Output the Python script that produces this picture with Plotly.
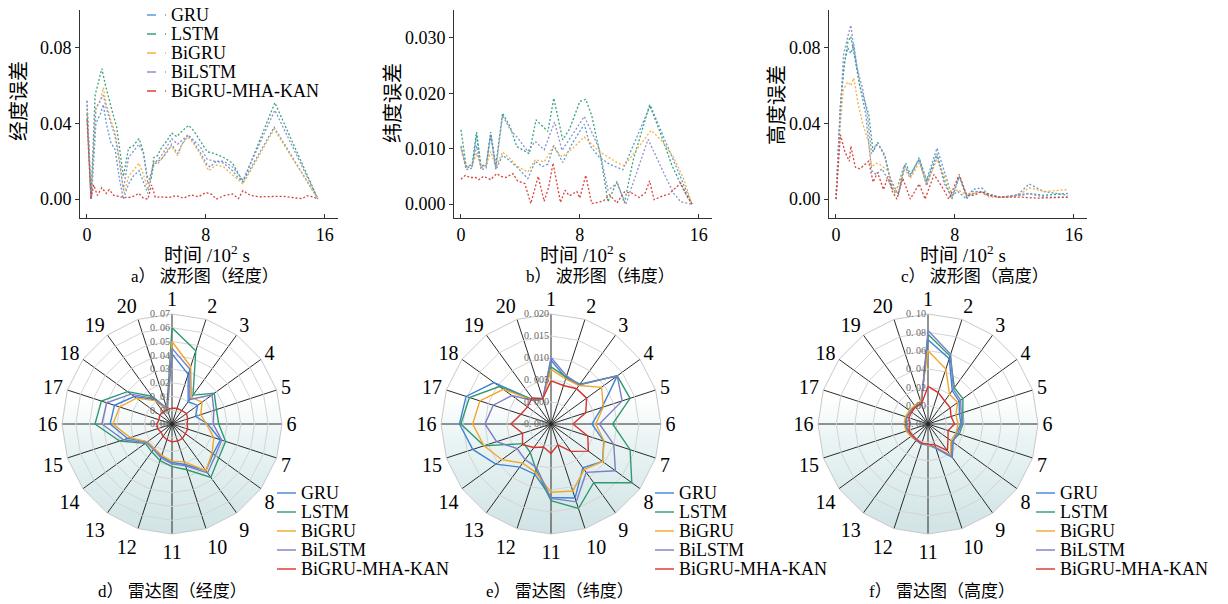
import math
import plotly.graph_objects as go

W, H = 1228, 604
FONT = "Liberation Serif, Times New Roman, Noto Sans CJK SC, serif"

models = ["GRU", "LSTM", "BiGRU", "BiLSTM", "BiGRU-MHA-KAN"]
wave_colors = ["#5b9bd5", "#3aa37a", "#f5b041", "#8f8fd0", "#d9433c"]
radar_colors = ["#3f83d8", "#2f9a70", "#f2a62a", "#7a7ec6", "#d8322c"]
spokes = [str(i) for i in range(1, 21)]

# ---------------- waveform data: longitude ----------------
lon_gru_t = [0, 0.3, 0.6, 0.9, 1.1, 1.3, 1.6, 1.9, 2.2, 2.45, 2.8, 3.1, 3.5, 3.8, 4.1, 4.5, 4.8, 5.1, 5.4, 5.7, 6.1, 6.4, 6.8, 7.2, 7.6, 8.1, 8.3, 8.7, 9.2, 9.8, 10.1, 10.5, 12.6, 15.55]
lon_gru_v = [0.052, 0.0, 0.040, 0.045, 0.050, 0.040, 0.030, 0.026, 0.010, 0.0, 0.008, 0.012, 0.015, 0.009, 0.003, 0.018, 0.020, 0.022, 0.025, 0.029, 0.024, 0.029, 0.034, 0.030, 0.025, 0.018, 0.017, 0.020, 0.019, 0.015, 0.012, 0.009, 0.038, 0.0]
lon_lstm_t = [0, 0.27, 0.55, 0.8, 1.0, 1.25, 1.5, 1.75, 2.0, 2.2, 2.45, 2.8, 3.1, 3.5, 3.8, 4.05, 4.3, 4.5, 4.75, 5.0, 5.4, 5.7, 6.05, 6.4, 6.85, 7.2, 7.6, 8.1, 8.6, 9.2, 9.8, 10.5, 12.65, 15.55]
lon_lstm_v = [0.045, 0.0, 0.055, 0.062, 0.069, 0.060, 0.052, 0.045, 0.038, 0.025, 0.012, 0.027, 0.028, 0.032, 0.025, 0.012, 0.010, 0.022, 0.023, 0.027, 0.031, 0.035, 0.033, 0.036, 0.039, 0.036, 0.031, 0.025, 0.024, 0.022, 0.019, 0.009, 0.051, 0.0]
lon_bigru_t = [0, 0.27, 0.6, 0.9, 1.1, 1.3, 1.6, 1.9, 2.2, 2.5, 2.8, 3.1, 3.5, 3.8, 4.1, 4.5, 4.8, 5.1, 5.4, 5.7, 6.1, 6.4, 6.8, 7.2, 7.6, 8.2, 8.7, 9.2, 9.8, 10.5, 12.6, 15.55]
lon_bigru_v = [0.048, 0.0, 0.048, 0.052, 0.059, 0.050, 0.042, 0.035, 0.018, 0.003, 0.012, 0.015, 0.019, 0.013, 0.005, 0.020, 0.019, 0.022, 0.026, 0.028, 0.023, 0.029, 0.033, 0.029, 0.024, 0.015, 0.018, 0.017, 0.013, 0.008, 0.037, 0.0]
lon_bilstm_t = [0, 0.27, 0.6, 0.9, 1.1, 1.3, 1.6, 1.9, 2.2, 2.45, 2.8, 3.1, 3.5, 3.8, 4.1, 4.5, 4.8, 5.1, 5.4, 5.7, 6.1, 6.4, 6.8, 7.2, 7.6, 8.1, 8.6, 9.2, 9.8, 10.5, 12.65, 15.55]
lon_bilstm_v = [0.052, 0.0, 0.048, 0.052, 0.055, 0.048, 0.040, 0.033, 0.020, 0.005, 0.022, 0.025, 0.029, 0.024, 0.008, 0.019, 0.021, 0.024, 0.028, 0.032, 0.029, 0.031, 0.034, 0.031, 0.028, 0.021, 0.020, 0.020, 0.017, 0.010, 0.047, 0.0]
lon_kan_t = [0, 0.27, 0.45, 0.7, 1.0, 1.3, 1.5, 1.8, 2.1, 2.5, 3.0, 3.5, 3.8, 4.1, 4.35, 4.6, 5.0, 5.5, 6.0, 6.5, 7.0, 7.5, 8.0, 8.4, 8.7, 9.3, 9.8, 10.2, 10.5, 11.0, 11.6, 12.5, 13.2, 14.0, 14.5, 14.8, 15.2, 15.55]
lon_kan_v = [0.042, 0.0, 0.0075, 0.002, 0.006, 0.003, 0.005, 0.002, 0.0015, 0.0008, 0.001, 0.003, 0.0005, 0.0, 0.0075, 0.001, 0.0012, 0.0008, 0.0018, 0.0005, 0.0022, 0.0012, 0.0035, 0.0025, 0.0, 0.002, 0.0027, 0.0003, 0.0045, 0.002, 0.0012, 0.0012, 0.0015, 0.0006, 0.0002, 0.0018, 0.0012, 0.0]

# ---------------- waveform data: latitude ----------------
lat_gru_t = [0, 0.35, 0.75, 1.05, 1.35, 1.7, 2.0, 2.35, 2.8, 3.3, 3.8, 4.5, 5.0, 5.5, 5.85, 6.25, 6.85, 7.5, 8.3, 8.7, 9.3, 10.0, 10.9, 12.75, 13.5, 14.3, 15.55]
lat_gru_v = [0.0104, 0.0062, 0.0065, 0.0125, 0.0062, 0.0065, 0.0126, 0.0062, 0.0088, 0.0078, 0.0066, 0.0046, 0.0077, 0.0068, 0.0072, 0.0106, 0.0075, 0.0110, 0.0144, 0.0105, 0.0085, 0.0072, 0.0062, 0.0178, 0.0130, 0.0080, 0.0]
lat_lstm_t = [0, 0.35, 0.75, 1.05, 1.35, 1.7, 2.0, 2.35, 2.8, 3.3, 3.75, 4.3, 4.6, 5.05, 5.5, 5.85, 6.25, 6.85, 7.3, 8.0, 8.4, 8.8, 9.4, 9.9, 10.5, 11.0, 11.6, 12.7, 13.4, 14.2, 14.9, 15.55]
lat_lstm_v = [0.0134, 0.0068, 0.0071, 0.0130, 0.0068, 0.0072, 0.0130, 0.0070, 0.0164, 0.0140, 0.0104, 0.0095, 0.0091, 0.0152, 0.0140, 0.0131, 0.0191, 0.0116, 0.0135, 0.0185, 0.0189, 0.0160, 0.0086, 0.0004, 0.0041, 0.0002, 0.0080, 0.0179, 0.0130, 0.0070, 0.0030, 0.0]
lat_bigru_t = [0, 0.35, 0.75, 1.05, 1.35, 1.7, 2.0, 2.35, 2.8, 3.3, 3.8, 4.5, 5.0, 5.6, 6.2, 6.8, 7.5, 8.3, 9.3, 10.5, 11.0, 12.8, 13.5, 14.3, 15.0, 15.55]
lat_bigru_v = [0.0100, 0.0067, 0.0070, 0.0092, 0.0066, 0.0070, 0.0095, 0.0066, 0.0094, 0.0082, 0.0068, 0.0058, 0.0080, 0.0076, 0.0103, 0.0085, 0.0100, 0.0121, 0.0095, 0.0075, 0.0069, 0.0133, 0.0115, 0.0085, 0.0045, 0.0]
lat_bilstm_t = [0, 0.35, 0.75, 1.05, 1.35, 1.7, 2.0, 2.35, 2.8, 3.3, 3.8, 4.5, 5.0, 5.6, 6.3, 6.8, 7.5, 8.3, 8.8, 9.3, 9.9, 10.5, 11.1, 12.6, 13.5, 14.3, 14.8, 15.55]
lat_bilstm_v = [0.0105, 0.0065, 0.0068, 0.0105, 0.0066, 0.0070, 0.0125, 0.0065, 0.0160, 0.0135, 0.0120, 0.0095, 0.0113, 0.0098, 0.0148, 0.0097, 0.0125, 0.0158, 0.0130, 0.0100, 0.0025, 0.0038, 0.0000, 0.0117, 0.0065, 0.0020, 0.0004, 0.0]
lat_kan_t = [0, 0.3, 0.6, 1.0, 1.2, 1.5, 1.8, 2.0, 2.4, 2.7, 3.0, 3.5, 3.8, 4.3, 4.7, 5.2, 5.6, 5.9, 6.2, 6.7, 7.0, 7.3, 7.8, 8.0, 8.4, 8.8, 9.2, 9.6, 10.0, 10.5, 11.0, 11.5, 12.0, 12.4, 12.7, 13.0, 13.6, 14.0, 14.8, 15.2, 15.55]
lat_kan_v = [0.0045, 0.0052, 0.0048, 0.0048, 0.0044, 0.0050, 0.0047, 0.0044, 0.0055, 0.0050, 0.0048, 0.0055, 0.0042, 0.0037, 0.0001, 0.0050, 0.0005, 0.0030, 0.0074, 0.0003, 0.0025, 0.0015, 0.0023, 0.0011, 0.0052, 0.0001, 0.0003, 0.0006, 0.0017, 0.0002, 0.0022, 0.0020, 0.0012, 0.0020, 0.0042, 0.0008, 0.0015, 0.0018, 0.0038, 0.0015, 0.0]

# ---------------- waveform data: altitude ----------------
alt_gru_t = [0, 0.3, 0.55, 0.8, 1.0, 1.2, 1.6, 2.0, 2.4, 2.7, 3.1, 3.5, 4.0, 4.6, 5.0, 5.6, 6.1, 6.8, 7.3, 7.8, 8.2, 8.8, 9.2, 9.8, 10.3, 11.0, 11.5, 12.2, 13.0, 14.0, 15.6]
alt_gru_v = [0, 0.050, 0.072, 0.080, 0.077, 0.082, 0.060, 0.045, 0.015, 0.013, 0.016, 0.010, 0.003, 0.018, 0.012, 0.022, 0.010, 0.027, 0.015, 0.002, 0.004, 0.000, 0.005, 0.006, 0.002, 0.001, 0.001, 0.002, 0.008, 0.004, 0.002]
alt_lstm_t = [0, 0.3, 0.55, 0.8, 1.0, 1.2, 1.6, 2.2, 2.5, 2.8, 3.3, 3.8, 4.2, 4.7, 5.0, 5.6, 6.1, 6.8, 7.3, 7.8, 8.3, 8.8, 9.5, 10.2, 11.0, 12.5, 13.0, 14.0, 15.6]
alt_lstm_v = [0, 0.050, 0.070, 0.083, 0.086, 0.078, 0.060, 0.045, 0.025, 0.030, 0.023, 0.005, 0.003, 0.019, 0.013, 0.021, 0.009, 0.024, 0.010, 0.000, 0.012, 0.001, 0.004, 0.003, 0.001, 0.002, 0.003, 0.002, 0.003]
alt_bigru_t = [0, 0.3, 0.5, 0.8, 1.0, 1.2, 1.5, 1.8, 2.2, 2.4, 2.7, 3.0, 3.5, 4.0, 4.6, 5.0, 5.6, 6.1, 6.8, 7.3, 7.8, 8.2, 8.8, 9.3, 9.8, 10.3, 11.5, 12.5, 13.0, 14.0, 15.6]
alt_bigru_v = [0, 0.040, 0.058, 0.062, 0.060, 0.064, 0.050, 0.040, 0.030, 0.017, 0.019, 0.018, 0.015, 0.003, 0.016, 0.011, 0.019, 0.008, 0.021, 0.012, 0.003, 0.005, 0.002, 0.003, 0.004, 0.001, 0.001, 0.003, 0.006, 0.004, 0.005]
alt_bilstm_t = [0, 0.3, 0.5, 0.8, 1.0, 1.2, 1.4, 1.8, 2.1, 2.4, 2.7, 3.0, 3.3, 3.6, 4.2, 4.6, 5.0, 5.6, 6.1, 6.8, 7.3, 7.8, 8.3, 8.8, 9.2, 9.7, 10.2, 11.0, 12.0, 13.0, 14.0, 15.6]
alt_bilstm_v = [0, 0.049, 0.076, 0.086, 0.092, 0.080, 0.070, 0.058, 0.045, 0.024, 0.029, 0.027, 0.022, 0.012, 0.002, 0.018, 0.012, 0.021, 0.007, 0.023, 0.008, 0.001, 0.012, 0.002, 0.004, 0.004, 0.002, 0.001, 0.002, 0.003, 0.001, 0.001]
alt_kan_t = [0, 0.3, 0.6, 0.9, 1.0, 1.3, 1.6, 1.9, 2.2, 2.5, 2.8, 3.2, 3.5, 3.8, 4.1, 4.5, 5.0, 5.6, 6.0, 6.6, 7.1, 7.6, 8.3, 8.8, 9.3, 9.8, 10.3, 11.0, 12.5, 13.5, 15.6]
alt_kan_v = [0, 0.034, 0.025, 0.020, 0.028, 0.017, 0.016, 0.018, 0.020, 0.009, 0.014, 0.005, 0.012, 0.004, 0.000, 0.011, 0.000, 0.008, 0.000, 0.013, 0.007, 0.000, 0.013, 0.002, 0.002, 0.004, 0.002, 0.001, 0.001, 0.0005, 0.001]

# ---------------- radar data (20 segments) ----------------
lon_radar_gru = [0.041, 0.028, 0.010, 0.013, 0.008, 0.016, 0.027, 0.027, 0.032, 0.021, 0.018, 0.015, 0.012, 0.012, 0.024, 0.035, 0.034, 0.024, 0.012, 0.001]
lon_radar_lstm = [0.060, 0.046, 0.016, 0.028, 0.024, 0.024, 0.031, 0.032, 0.038, 0.025, 0.021, 0.018, 0.015, 0.014, 0.030, 0.046, 0.044, 0.030, 0.015, 0.002]
lon_radar_bigru = [0.050, 0.034, 0.014, 0.017, 0.012, 0.015, 0.022, 0.026, 0.032, 0.019, 0.017, 0.014, 0.012, 0.012, 0.022, 0.033, 0.030, 0.022, 0.011, 0.001]
lon_radar_bilstm = [0.045, 0.032, 0.012, 0.026, 0.022, 0.020, 0.028, 0.029, 0.034, 0.022, 0.019, 0.016, 0.013, 0.013, 0.027, 0.041, 0.040, 0.027, 0.013, 0.002]
lon_radar_kan = [0.0015, 0.002, 0.002, 0.003, 0.002, 0.001, 0.002, 0.002, 0.003, 0.003, 0.003, 0.002, 0.001, 0.000, 0.001, 0.001, 0.000, 0.001, 0.001, 0.001]

lat_radar_gru = [0.0095, 0.0060, 0.0060, 0.0136, 0.0072, 0.0043, 0.0076, 0.0095, 0.0073, 0.0127, 0.0117, 0.0070, 0.0071, 0.0105, 0.0137, 0.0158, 0.0153, 0.0110, 0.0017, 0.0010]
lat_radar_lstm = [0.0080, 0.0062, 0.0062, 0.0136, 0.0139, 0.0090, 0.0139, 0.0177, 0.0115, 0.0152, 0.0124, 0.0060, 0.0030, 0.0026, 0.0110, 0.0155, 0.0145, 0.0095, 0.0017, 0.0010]
lat_radar_bigru = [0.0074, 0.0058, 0.0058, 0.0092, 0.0075, 0.0052, 0.0077, 0.0095, 0.0078, 0.0110, 0.0105, 0.0065, 0.0060, 0.0088, 0.0110, 0.0128, 0.0120, 0.0084, 0.0015, 0.0010]
lat_radar_bilstm = [0.0101, 0.0065, 0.0060, 0.0136, 0.0120, 0.0060, 0.0100, 0.0131, 0.0086, 0.0136, 0.0119, 0.0055, 0.0050, 0.0045, 0.0080, 0.0100, 0.0088, 0.0060, 0.0015, 0.0010]
lat_radar_kan = [0.0048, 0.0042, 0.0049, 0.0050, 0.0033, 0.0000, 0.0038, 0.0055, 0.0027, 0.0000, 0.0017, 0.0005, 0.0016, 0.0030, 0.0018, 0.0041, 0.0022, 0.0016, 0.0023, 0.0011]

alt_radar_gru = [0.072, 0.055, 0.025, 0.022, 0.016, 0.016, 0.012, 0.014, 0.025, 0.008, 0.003, 0.003, 0.002, 0.002, 0.004, 0.0055, 0.005, 0.004, 0.004, 0.004]
alt_radar_lstm = [0.078, 0.058, 0.029, 0.027, 0.020, 0.018, 0.016, 0.012, 0.024, 0.007, 0.002, 0.003, 0.002, 0.002, 0.004, 0.005, 0.0045, 0.004, 0.0036, 0.004]
alt_radar_bigru = [0.060, 0.043, 0.020, 0.020, 0.012, 0.013, 0.012, 0.011, 0.022, 0.007, 0.003, 0.002, 0.002, 0.003, 0.005, 0.006, 0.006, 0.005, 0.005, 0.006]
alt_radar_bilstm = [0.082, 0.060, 0.027, 0.024, 0.018, 0.017, 0.014, 0.013, 0.024, 0.007, 0.002, 0.003, 0.002, 0.002, 0.003, 0.004, 0.004, 0.003, 0.003, 0.003]
alt_radar_kan = [0.021, 0.016, 0.011, 0.010, 0.0065, 0.009, 0.003, 0.007, 0.016, 0.0036, 0.002, 0.002, 0.001, 0.001, 0.002, 0.000, 0.002, 0.002, 0.003, 0.003]

# radial ticks
lon_rticks = [-0.01, 0.0, 0.01, 0.02, 0.03, 0.04, 0.05, 0.06, 0.07]
lat_rticks = [-0.005, 0.0, 0.005, 0.010, 0.015, 0.020]
alt_rticks = [-0.02, 0.0, 0.02, 0.04, 0.06, 0.08, 0.10]

# ---------------- figure ----------------
fig = go.Figure()


def fx(p):
    return p / W


def fy(p):
    return 1 - p / H


wave_panels = [
    ("", [(lon_gru_t, lon_gru_v), (lon_lstm_t, lon_lstm_v), (lon_bigru_t, lon_bigru_v),
          (lon_bilstm_t, lon_bilstm_v), (lon_kan_t, lon_kan_v)]),
    ("2", [(lat_gru_t, lat_gru_v), (lat_lstm_t, lat_lstm_v), (lat_bigru_t, lat_bigru_v),
           (lat_bilstm_t, lat_bilstm_v), (lat_kan_t, lat_kan_v)]),
    ("3", [(alt_gru_t, alt_gru_v), (alt_lstm_t, alt_lstm_v), (alt_bigru_t, alt_bigru_v),
           (alt_bilstm_t, alt_bilstm_v), (alt_kan_t, alt_kan_v)]),
]
for sfx, series in wave_panels:
    for i, (t, v) in enumerate(series):
        fig.add_trace(go.Scatter(x=t, y=v, mode="lines", name=models[i], showlegend=False,
                                 line=dict(color=wave_colors[i], width=1.3, dash="2px,2px"),
                                 xaxis="x" + sfx, yaxis="y" + sfx))

# gradient backgrounds for radar (drawn on hidden cartesian axes under the polar plots)
n = len(spokes)
poly_x = [math.cos(math.radians(90 - 360 * k / n)) for k in range(n + 1)]
poly_y = [math.sin(math.radians(90 - 360 * k / n)) for k in range(n + 1)]
for sfx in ["4", "5", "6"]:
    fig.add_trace(go.Scatter(x=poly_x, y=poly_y, mode="lines", fill="toself", line=dict(width=0),
                             fillgradient=dict(type="vertical",
                                               colorscale=[[0, "#d0e3e5"], [0.45, "#ecf5f5"],
                                                           [0.62, "#ffffff"], [1, "#ffffff"]]),
                             hoverinfo="skip", showlegend=False, xaxis="x" + sfx, yaxis="y" + sfx))

radar_panels = [
    ("polar", [lon_radar_gru, lon_radar_lstm, lon_radar_bigru, lon_radar_bilstm, lon_radar_kan], lon_rticks, 2),
    ("polar2", [lat_radar_gru, lat_radar_lstm, lat_radar_bigru, lat_radar_bilstm, lat_radar_kan], lat_rticks, 3),
    ("polar3", [alt_radar_gru, alt_radar_lstm, alt_radar_bigru, alt_radar_bilstm, alt_radar_kan], alt_rticks, 2),
]
for pname, series, rt, dec in radar_panels:
    for i, vals in enumerate(series):
        fig.add_trace(go.Scatterpolar(r=vals + vals[:1], theta=spokes + spokes[:1], mode="lines",
                                      name=models[i], showlegend=False,
                                      line=dict(color=radar_colors[i], width=1.4), subplot=pname))
    fig.add_trace(go.Scatterpolar(r=[rt[0]], theta=spokes[:1], mode="markers",
                                  marker=dict(color="black", size=7), showlegend=False,
                                  hoverinfo="skip", subplot=pname))

axis_common = dict(showline=True, linecolor="#333", linewidth=1, ticklen=4,
                   tickcolor="#333", showgrid=False, zeroline=False,
                   tickfont=dict(size=18, family=FONT, color="black"))

top_boxes = [(80, 338), (454, 712), (829, 1087)]
y_ranges = [([-0.01, 0.1], [0, 0.04, 0.08], ".2f"),
            ([-0.0025, 0.035], [0, 0.01, 0.02, 0.03], ".3f"),
            ([-0.01, 0.1], [0, 0.04, 0.08], ".2f")]
layout = dict(width=W, height=H, margin=dict(l=0, r=0, t=0, b=0),
              paper_bgcolor="white", plot_bgcolor="rgba(0,0,0,0)",
              font=dict(family=FONT, color="black"), showlegend=False)
for k, ((x0, x1), (yr, yt, yf)) in enumerate(zip(top_boxes, y_ranges)):
    s = "" if k == 0 else str(k + 1)
    layout["xaxis" + s] = dict(axis_common, ticks="inside", domain=[fx(x0), fx(x1)],
                               range=[-0.47, 16.9], tickvals=[0, 8, 16], anchor="y" + s)
    layout["yaxis" + s] = dict(axis_common, ticks="outside", domain=[fy(218), fy(10)], range=yr,
                               tickvals=yt, tickformat=yf, anchor="x" + s)

radar_centers = [172, 551, 928]
R = 110
for k, ((pname, _, rt, dec), cx) in enumerate(zip(radar_panels, radar_centers)):
    dom = dict(x=[fx(cx - R), fx(cx + R)], y=[fy(424 + R), fy(424 - R)])
    layout[pname] = dict(
        domain=dom, bgcolor="rgba(0,0,0,0)", gridshape="linear",
        angularaxis=dict(type="category", categoryarray=spokes, direction="clockwise", rotation=90,
                         tickfont=dict(size=20, family=FONT, color="black"), showgrid=True,
                         gridcolor="#2b2b2b", gridwidth=1, showline=True, linecolor="#c8c8c8",
                         ticks=""),
        radialaxis=dict(range=[rt[0], rt[-1]], tickvals=rt,
                        ticktext=[("%.*f" % (dec, v)).replace(".", ". ") for v in rt],
                        angle=90, tickangle=90, side="counterclockwise", showline=False, ticks="",
                        gridcolor="#d4d4d4", gridwidth=1,
                        tickfont=dict(size=10, family=FONT, color="#666")))
    s = str(k + 4)
    layout["xaxis" + s] = dict(domain=dom["x"], range=[-1, 1], visible=False, anchor="y" + s,
                               fixedrange=True)
    layout["yaxis" + s] = dict(domain=dom["y"], range=[-1, 1], visible=False, anchor="x" + s,
                               fixedrange=True)

fig.update_layout(**layout)

# ---------------- texts ----------------
ann = []
shapes = []


def text(x, y, s, size, angle=0, xanchor="center"):
    ann.append(dict(x=fx(x), y=fy(y), xref="paper", yref="paper", text=s, showarrow=False,
                    textangle=angle, xanchor=xanchor, yanchor="middle",
                    font=dict(size=size, family=FONT, color="black")))


for (cx, cy), s in zip([(19, 101), (393, 103), (777, 105)], ["经度误差", "纬度误差", "高度误差"]):
    text(cx, cy, s, 20, angle=-90)
for cx in [207, 583, 963]:
    text(cx, 254, "时间 /10<sup>2</sup> s", 19)
for cx, s in zip([205, 600, 975], ["a） 波形图（经度）", "b） 波形图（纬度）", "c） 波形图（高度）"]):
    text(cx, 276, s, 17)
for cx, s in zip([172, 560, 942], ["d） 雷达图（经度）", "e） 雷达图（纬度）", "f） 雷达图（高度）"]):
    text(cx, 591, s, 17)


# legends (compact, as in the reference)
def legend(x0, y0, colors, dash):
    for i, m in enumerate(models):
        yy = y0 + 19 * i
        shapes.append(dict(type="line", xref="paper", yref="paper", x0=fx(x0), x1=fx(x0 + 19),
                           y0=fy(yy), y1=fy(yy), line=dict(color=colors[i], width=1.4, dash=dash)))
        text(x0 + 22, yy, m, 18, xanchor="left")


legend(147, 15, wave_colors, "dash")
legend(277, 493, radar_colors, "solid")
legend(655, 493, radar_colors, "solid")
legend(1036, 493, radar_colors, "solid")

fig.update_layout(annotations=ann, shapes=shapes)

fig.write_html("out.html", config={"displayModeBar": False},
               post_script="document.body.style.margin='0';")
